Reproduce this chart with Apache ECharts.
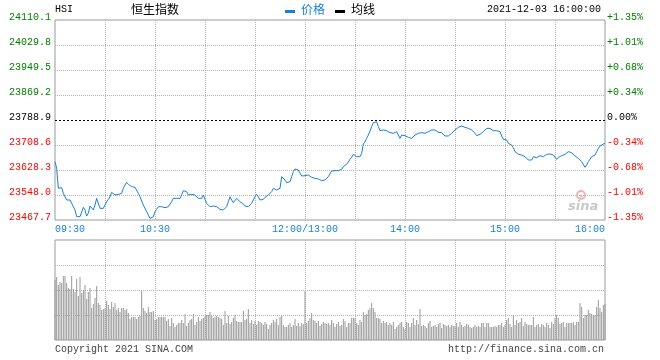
<!DOCTYPE html>
<html>
<head>
<meta charset="utf-8">
<script src="https://cdn.jsdelivr.net/npm/echarts@6/dist/echarts.min.js"></script>
<style>html,body{margin:0;padding:0;background:#fff;}#c{width:660px;height:360px;}</style>
</head>
<body>
<div id="c"></div>
<script>
// ---- data ----
var prevClose = 23788.9;
var priceMin = 23467.7;
var priceMax = 24110.1;
var priceTicks = ['23467.7','23548.0','23628.3','23708.6','23788.9','23869.2','23949.5','24029.8','24110.1'];
var pctTicks = ['-1.35%','-1.01%','-0.68%','-0.34%','0.00%','+0.34%','+0.68%','+1.01%','+1.35%'];
var timeLabels = ['09:30','10:30','12:00','14:00','15:00','16:00'];
var timeLabelText = {'12:00':'12:00/13:00'};

var price = [
23655.1,23633.7,23569.4,23572.6,23571.5,23553.3,23542.6,23531.9,23537.2,23531.9,
23521.2,23510.5,23499.8,23478.4,23473.0,23478.4,23476.2,23508.3,23499.8,23480.5,
23489.1,23512.6,23508.3,23499.8,23515.8,23537.2,23531.9,23505.1,23499.8,23505.1,
23510.5,23526.5,23534.0,23542.6,23556.6,23553.3,23548.0,23551.2,23550.1,23548.0,
23553.3,23569.4,23580.1,23588.7,23582.2,23576.9,23574.8,23574.8,23572.6,23569.4,
23553.3,23542.6,23528.7,23515.8,23510.5,23494.4,23483.7,23473.0,23469.8,23478.4,
23494.4,23501.9,23510.5,23505.1,23510.5,23504.1,23507.3,23505.1,23510.5,23515.8,
23526.5,23537.2,23535.1,23537.2,23534.0,23537.2,23548.0,23561.9,23566.2,23558.7,
23548.0,23542.6,23550.1,23555.5,23548.0,23542.6,23537.2,23531.9,23537.2,23548.0,
23534.0,23521.2,23519.1,23510.5,23508.3,23512.6,23512.6,23510.5,23505.1,23501.9,
23508.3,23499.8,23494.4,23510.5,23526.5,23542.6,23531.9,23523.3,23528.7,23537.2,
23531.9,23526.5,23531.9,23519.1,23512.6,23515.8,23510.5,23515.8,23521.2,23531.9,
23542.6,23550.1,23542.6,23531.9,23528.7,23534.0,23540.5,23542.6,23548.0,23553.3,
23558.7,23569.4,23572.6,23564.0,23561.9,23569.4,23606.9,23601.5,23596.2,23587.6,
23585.5,23590.8,23606.9,23622.9,23631.5,23628.3,23628.3,23625.1,23609.0,23609.0,
23610.1,23612.2,23612.2,23606.9,23604.7,23604.7,23601.5,23598.3,23599.4,23596.2,
23594.0,23593.0,23596.2,23601.5,23606.9,23612.2,23625.1,23630.4,23626.2,23625.1,
23626.2,23626.2,23630.4,23639.0,23644.4,23646.5,23651.8,23662.5,23669.0,23678.6,
23678.6,23671.1,23667.9,23671.1,23681.8,23711.8,23719.3,23730.0,23740.7,23753.6,
23767.5,23780.3,23785.7,23783.5,23767.5,23754.6,23751.4,23756.8,23760.0,23754.6,
23750.3,23748.2,23753.6,23746.1,23748.2,23751.4,23746.1,23730.0,23740.7,23746.1,
23738.6,23735.4,23733.2,23732.1,23730.0,23735.4,23740.7,23742.8,23746.1,23749.3,
23748.2,23746.1,23746.1,23748.2,23751.4,23753.6,23756.8,23758.9,23756.8,23753.6,
23749.3,23746.1,23748.2,23742.8,23737.5,23740.7,23737.5,23742.8,23746.1,23751.4,
23756.8,23762.1,23765.3,23764.3,23769.6,23767.5,23765.3,23762.1,23762.1,23758.9,
23756.8,23751.4,23746.1,23738.6,23735.4,23742.8,23748.2,23751.4,23756.8,23762.1,
23764.3,23762.1,23758.9,23754.6,23756.8,23754.6,23754.6,23751.4,23737.5,23726.8,
23722.5,23724.7,23714.0,23711.8,23708.6,23700.0,23687.2,23681.8,23678.6,23676.5,
23676.5,23673.3,23671.1,23665.8,23660.4,23658.3,23660.4,23671.1,23673.3,23667.9,
23671.1,23674.3,23673.3,23671.1,23673.3,23678.6,23685.0,23679.7,23681.8,23676.5,
23671.1,23662.5,23669.0,23673.3,23674.3,23676.5,23678.6,23681.8,23687.2,23690.4,
23684.0,23678.6,23673.3,23671.1,23665.8,23662.5,23655.1,23649.7,23636.9,23644.4,
23655.1,23662.5,23671.1,23669.0,23676.5,23687.2,23697.9,23705.4,23710.7,23711.8,23714.0
];

var volume = [
60,
63,55,58,57,64,64,57,52,51,64,
51,48,61,44,63,47,50,55,41,48,
52,32,36,42,54,37,35,30,31,32,
39,35,31,38,33,37,30,32,28,32,
32,30,31,27,21,23,23,23,21,23,
24,49,32,29,27,33,28,28,29,20,
21,23,23,23,23,23,19,21,14,22,
17,13,15,17,17,20,17,26,14,17,
20,21,26,15,18,23,19,21,22,24,
25,25,28,24,22,23,24,23,22,21,
15,29,17,24,16,18,22,25,19,18,
18,18,29,20,21,31,17,20,16,19,
15,19,18,17,15,18,16,11,15,17,
20,18,21,15,23,24,15,13,13,15,
17,13,15,21,14,17,14,17,16,49,
17,19,22,27,20,19,17,19,14,16,
18,17,16,17,
15,20,17,13,16,18,14,15,21,19,
13,17,17,22,22,22,17,15,20,18,
28,25,26,30,32,37,32,28,22,22,
21,17,19,17,18,15,17,15,18,11,
13,15,17,18,13,11,18,17,13,17,
22,15,20,16,31,14,15,14,12,17,
19,13,14,15,13,16,17,12,16,15,
14,15,13,15,14,14,17,13,18,15,
13,14,16,15,13,12,13,15,13,14,
13,17,17,13,17,17,13,13,13,14,
13,15,15,17,13,15,20,22,16,13,
25,15,20,17,18,22,14,18,16,15,
15,15,23,13,15,16,13,16,15,13,
17,15,12,18,16,22,25,22,16,17,
18,13,17,17,17,17,18,15,18,18,
37,33,22,25,25,30,27,26,25,25,
33,40,32,28,35,36
];

// minute categories 09:30-12:00, 13:01-16:00
var times = [];
(function(){
  function fmt(h,m){return (h<10?'0':'')+h+':'+(m<10?'0':'')+m;}
  for (var t=9*60+30; t<=12*60; t++) times.push(fmt(Math.floor(t/60), t%60));
  for (var t2=13*60+1; t2<=16*60; t2++) times.push(fmt(Math.floor(t2/60), t2%60));
})();

var MONO = '"Liberation Mono","DejaVu Sans Mono",monospace';
var CJK = '"Noto Sans CJK SC","Noto Sans",sans-serif';
var GRIDC = '#b4b4b4';
var BORDER = '#999999';
var BLUE = '#1a7fd4';

function vSplit(i){ return i % 30 === 0 && i !== 0 && i !== times.length-1; }

var chart = echarts.init(document.getElementById('c'), null, {renderer:'canvas'});
var option = {
  animation: false,
  backgroundColor: '#fff',
  grid: [
    {left:55, top:20, width:550, height:200, show:true, borderColor:BORDER, borderWidth:1, backgroundColor:'transparent'},
    {left:55, top:240, width:550, height:100, show:true, borderColor:BORDER, borderWidth:1, backgroundColor:'transparent'}
  ],
  xAxis: [
    {type:'category', gridIndex:0, data:times, boundaryGap:false,
     axisLine:{show:false}, axisTick:{show:false},
     splitLine:{show:true, interval:function(i){return vSplit(i);}, lineStyle:{color:GRIDC, type:'dotted', width:1}},
     axisLabel:{show:true, interval:function(i,v){return timeLabels.indexOf(v)>=0;},
       formatter:function(v){return timeLabelText[v]||v;},
       color:BLUE, fontFamily:MONO, fontSize:10, margin:4,
       alignMinLabel:'left', alignMaxLabel:'right', showMinLabel:true, showMaxLabel:true, hideOverlap:false}
    },
    {type:'category', gridIndex:1, data:times, boundaryGap:false,
     axisLine:{show:false}, axisTick:{show:false}, axisLabel:{show:false},
     splitLine:{show:true, interval:function(i){return vSplit(i);}, lineStyle:{color:GRIDC, type:'dotted', width:1}}
    }
  ],
  yAxis: [
    {type:'value', gridIndex:0, min:priceMin, max:priceMax, show:false, scale:true,
     splitLine:{show:false}},
    {type:'value', gridIndex:0, min:0, max:8, interval:1, position:'left',
     axisLine:{show:false}, axisTick:{show:false},
     splitLine:{show:true, lineStyle:{color:['transparent',GRIDC,GRIDC,GRIDC,'transparent',GRIDC,GRIDC,GRIDC,'transparent'], type:'dotted', width:1}},
     axisLabel:{formatter:function(v){return priceTicks[v];}, fontFamily:MONO, fontSize:10, margin:4,
       verticalAlign:'bottom', lineHeight:6,
       color:function(v){ v=Number(v); return v>4?'#008000':(v<4?'#ff0000':'#000000'); }}
    },
    {type:'value', gridIndex:0, min:0, max:8, interval:1, position:'right',
     axisLine:{show:false}, axisTick:{show:false}, splitLine:{show:false},
     axisLabel:{formatter:function(v){return pctTicks[v];}, fontFamily:MONO, fontSize:10, margin:2,
       verticalAlign:'bottom', lineHeight:6,
       color:function(v){ v=Number(v); return v>4?'#008000':(v<4?'#ff0000':'#000000'); }}
    },
    {type:'value', gridIndex:1, min:0, max:100, interval:25,
     axisLine:{show:false}, axisTick:{show:false}, axisLabel:{show:false},
     splitLine:{show:true, lineStyle:{color:['transparent',GRIDC,GRIDC,GRIDC,'transparent'], type:'dotted', width:1}}
    }
  ],
  series: [
    {name:'价格', type:'line', xAxisIndex:0, yAxisIndex:0, data:price, showSymbol:false, symbol:'none',
     lineStyle:{color:BLUE, width:1}, itemStyle:{color:BLUE}, z:5,
     markLine:{silent:true, symbol:['none','none'], label:{show:false},
       lineStyle:{color:'#000', type:[2,2], width:1}, data:[{yAxis:prevClose}]}
    },
    {name:'成交量', type:'bar', xAxisIndex:1, yAxisIndex:3, data:volume, barWidth:1,
     itemStyle:{color:'#999999'}, z:2}
  ],
  graphic: [
    {type:'text', left:55, top:4, style:{text:'HSI', font:'10px '+MONO, fill:'#000'}},
    {type:'text', left:131, top:3, style:{text:'恒生指数', font:'12px '+CJK, fill:'#000'}},
    {type:'rect', shape:{x:285, y:10, width:10, height:3}, style:{fill:BLUE}},
    {type:'text', left:301, top:3, style:{text:'价格', font:'12px '+CJK, fill:BLUE}},
    {type:'rect', shape:{x:335, y:10, width:10, height:3}, style:{fill:'#000'}},
    {type:'text', left:351, top:3, style:{text:'均线', font:'12px '+CJK, fill:'#000'}},
    {type:'text', left:487, top:4, style:{text:'2021-12-03 16:00:00', font:'10px '+MONO, fill:'#000'}},
    {type:'text', left:55, top:344, style:{text:'Copyright 2021 SINA.COM', font:'10px '+MONO, fill:'#444'}},
    {type:'text', right:56, top:344, style:{text:'http://finance.sina.com.cn', font:'10px '+MONO, fill:'#444'}},
    {type:'circle', shape:{cx:581, cy:195, r:4}, style:{fill:'none', stroke:'#f2b3b3', lineWidth:2}, z:1},
    {type:'circle', shape:{cx:581, cy:196, r:1.5}, style:{fill:'#c8c8c8'}, z:1},
    {type:'text', left:568, top:200, style:{text:'sina', font:'italic bold 13px "DejaVu Sans",sans-serif', fill:'#c8c8c8'}, z:1}
  ]
};
chart.setOption(option);
</script>
</body>
</html>
